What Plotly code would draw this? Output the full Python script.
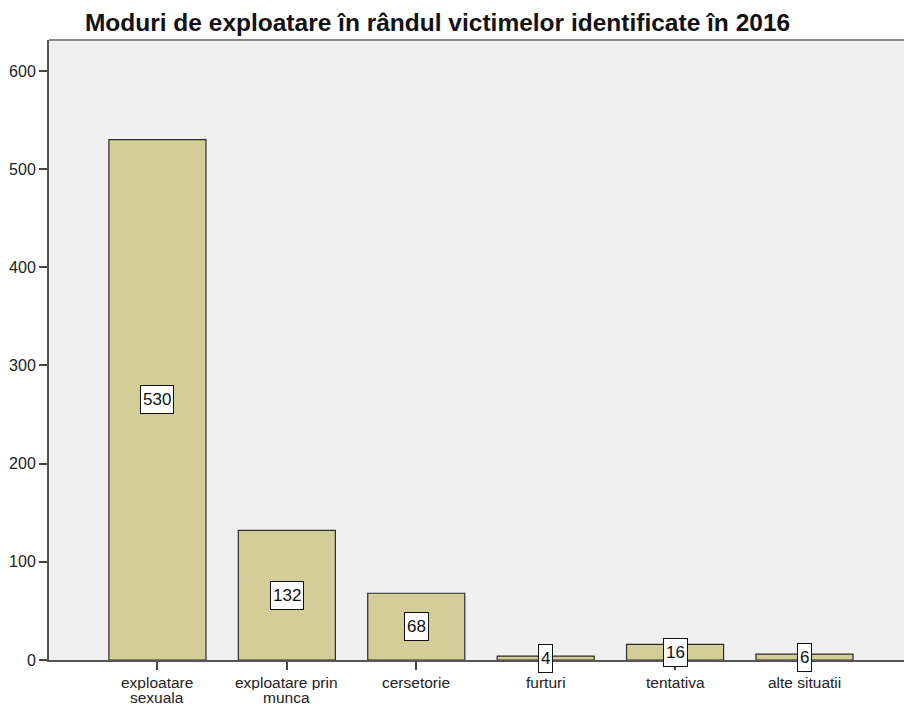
import plotly.graph_objects as go

categories = ["exploatare<br>sexuala", "exploatare prin<br>munca", "cersetorie", "furturi", "tentativa", "alte situatii"]
values = [530, 132, 68, 4, 16, 6]
y_ticks = [0, 100, 200, 300, 400, 500, 600]
title_text = "Moduri de exploatare în rândul victimelor identificate în 2016"

FONT = "Arial, Liberation Sans, sans-serif"
x_idx = list(range(len(categories)))

fig = go.Figure()
fig.add_trace(go.Bar(
    x=x_idx, y=values, width=0.75,
    marker=dict(color="#d3ce97", line=dict(color="#2b2b2b", width=1.2)),
    hoverinfo="skip",
))

# value labels in white boxes at bar middles
for i, v in zip(x_idx, values):
    fig.add_annotation(
        x=i, y=v / 2, text=str(v), showarrow=False,
        font=dict(family=FONT, size=17, color="#111"),
        bgcolor="white", bordercolor="#111", borderwidth=1, borderpad=2,
        height=23,
        xref="x", yref="y",
    )

# category labels (tight line spacing)
for i, lab in zip(x_idx, categories):
    for k, line in enumerate(lab.split("<br>")):
        fig.add_annotation(
            x=i, y=0, xref="x", yref="paper", text=line, showarrow=False,
            yanchor="middle", xanchor="center", yshift=-22 - 15 * k,
            height=15, borderpad=0,
            font=dict(family=FONT, size=15.5, color="#222"),
        )

fig.add_shape(type="line", xref="paper", yref="paper", x0=0, x1=1, y0=1, y1=1,
              line=dict(color="#8a8a8a", width=2))

fig.update_layout(
    width=904, height=706,
    margin=dict(l=49, r=0, t=40, b=46),
    paper_bgcolor="white", plot_bgcolor="#f0f0f0",
    showlegend=False,
    title=dict(text=title_text, x=0.484, xanchor="center", y=0.968, yanchor="middle",
               font=dict(family=FONT, size=24.5, color="#111", weight="bold")),
    font=dict(family=FONT, size=16, color="#222"),
)
fig.update_xaxes(
    range=[-0.838, 5.769], tickmode="array", tickvals=x_idx, ticktext=[""] * len(x_idx),
    ticks="outside", ticklen=8, tickcolor="#444", tickwidth=2,
    showline=True, linecolor="#555", linewidth=2, showgrid=False, zeroline=False,
)
fig.update_yaxes(
    range=[0, 631.5], tickmode="array", tickvals=y_ticks,
    ticks="outside", ticklen=8, tickcolor="#444", tickwidth=2,
    showline=True, linecolor="#555", linewidth=2, showgrid=False, zeroline=False,
    tickfont=dict(family=FONT, size=16, color="#222"),
)

fig.write_html("out.html", config={"displayModeBar": False},
               post_script="document.body.style.margin='0';")
